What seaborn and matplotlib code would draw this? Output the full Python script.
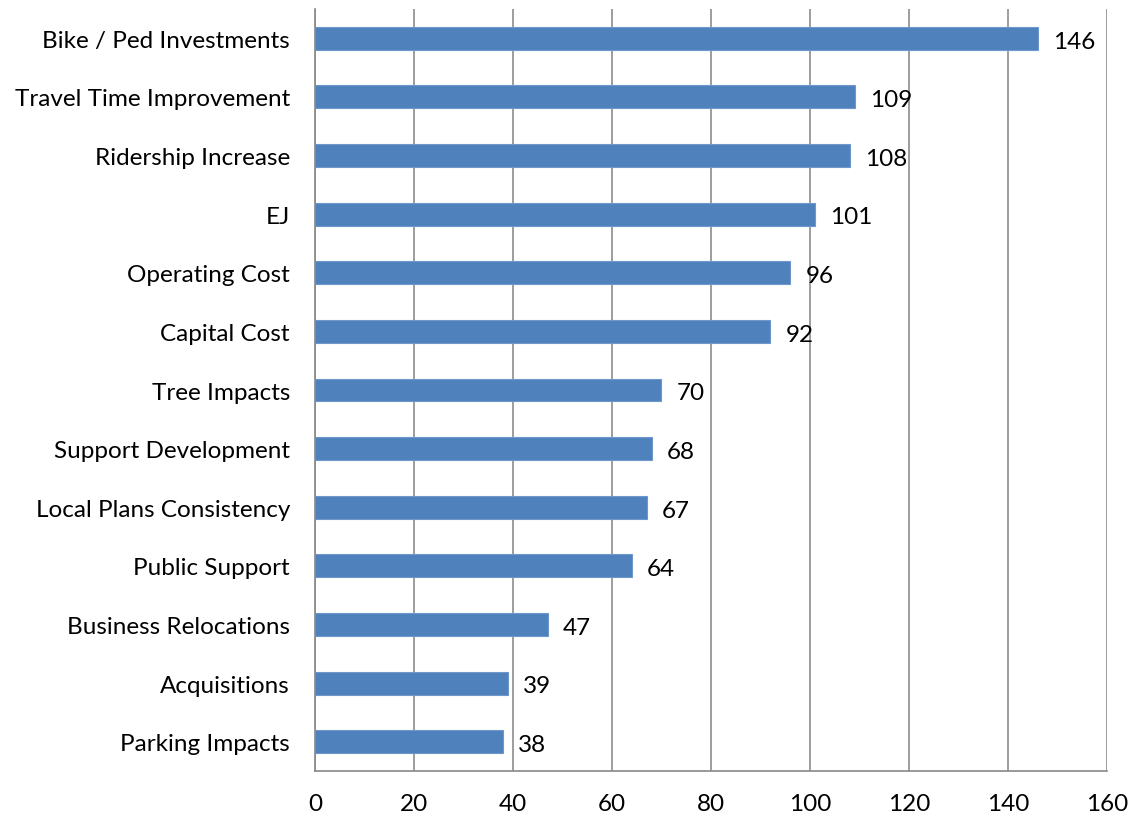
import matplotlib
matplotlib.use("Agg")
import matplotlib.pyplot as plt
import seaborn as sns
import pandas as pd
import numpy as np

# values
categories = ["Bike / Ped Investments", "Travel Time Improvement", "Ridership Increase", "EJ",
              "Operating Cost", "Capital Cost", "Tree Impacts", "Support Development",
              "Local Plans Consistency", "Public Support", "Business Relocations",
              "Acquisitions", "Parking Impacts"]
counts = [146, 109, 108, 101, 96, 92, 70, 68, 67, 64, 47, 39, 38]
x_ticks = [0, 20, 40, 60, 80, 100, 120, 140, 160]

sns.set_style("white")
plt.rcParams["font.family"] = ["Lato", "DejaVu Sans"]
plt.rcParams["text.color"] = "black"
plt.rcParams["xtick.labelcolor"] = "black"
plt.rcParams["ytick.labelcolor"] = "black"

df = pd.DataFrame({"category": categories, "count": counts})

fig = plt.figure(figsize=(11.35, 8.2), dpi=100)
ax = fig.add_axes([0.2775, 0.0585, 0.6978, 0.9293])

sns.barplot(data=df, x="count", y="category", orient="h", color="#4F81BD",
            width=0.39, saturation=1, edgecolor="#6E98CB", linewidth=0.8, ax=ax)

# data labels, sitting slightly below the bar centre like the original
for i, v in enumerate(counts):
    ax.annotate(str(v), (v, i), xytext=(11, -2), textcoords="offset points",
                ha="left", va="center", fontsize=17.5, color="black")

ax.set_xlim(0, 160)
ax.set_ylim(len(categories) - 0.5, -0.5)
ax.set_xticks(x_ticks)
ax.set_xticklabels([str(t) for t in x_ticks], fontsize=17.5)
ax.set_yticks(range(len(categories)))
ax.set_yticklabels(categories, fontsize=17.5)
ax.tick_params(axis="y", which="major", length=0, pad=18)
ax.set_yticks(np.arange(-0.5, len(categories)), minor=True)
ax.tick_params(axis="y", which="minor", length=7, color="#878787", width=1.2, direction="out")
ax.tick_params(axis="x", length=7, color="#878787", width=1.2, direction="out", pad=9)

ax.set_xlabel("")
ax.set_ylabel("")
ax.set_axisbelow(True)
ax.grid(axis="x", color="#8C8C8C", linewidth=1.2)
ax.grid(axis="y", visible=False)

for side in ["top", "right"]:
    ax.spines[side].set_visible(False)
for side in ["left", "bottom"]:
    ax.spines[side].set_color("#878787")
    ax.spines[side].set_linewidth(1.2)

fig.savefig("out.png", dpi=100)
